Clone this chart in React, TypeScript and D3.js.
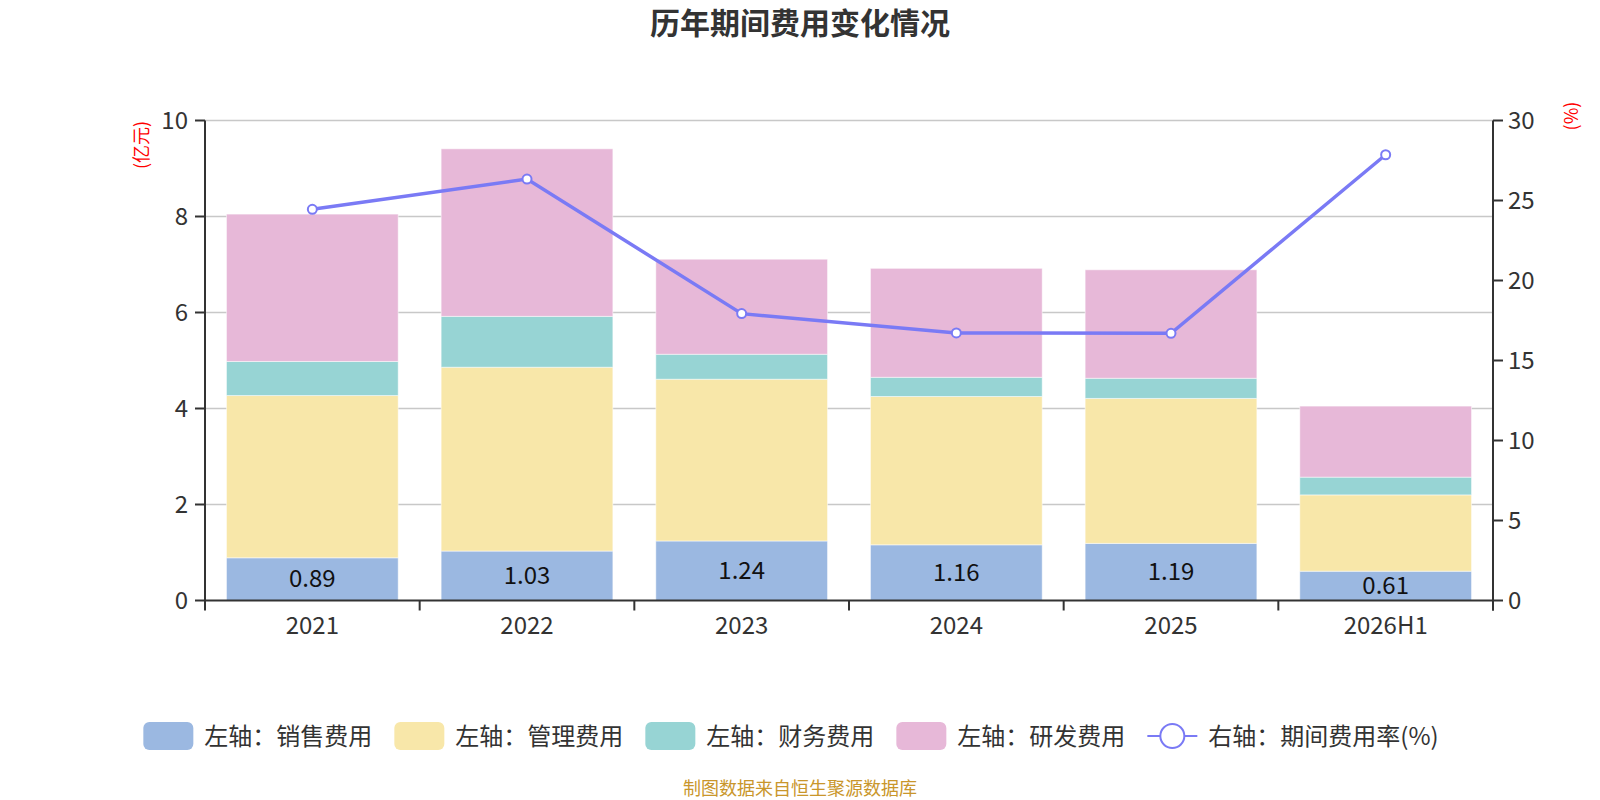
import * as d3 from 'd3'
import React, { useEffect, useRef } from 'react'

const categories = ['2021', '2022', '2023', '2024', '2025', '2026H1']
const salesCost = [0.89, 1.03, 1.24, 1.16, 1.19, 0.61]
const adminCost = [3.38, 3.83, 3.37, 3.09, 3.02, 1.59]
const financeCost = [0.71, 1.06, 0.52, 0.4, 0.42, 0.37]
const rdCost = [3.07, 3.49, 1.98, 2.27, 2.26, 1.48]
const expenseRate = [24.45, 26.34, 17.93, 16.72, 16.7, 27.86]

const seriesNames = ['左轴：销售费用', '左轴：管理费用', '左轴：财务费用', '左轴：研发费用']
const lineName = '右轴：期间费用率(%)'
const leftTicks = [0, 2, 4, 6, 8, 10]
const rightTicks = [0, 5, 10, 15, 20, 25, 30]

const colors = ['#9bb8e1', '#f8e7a9', '#97d4d4', '#e7b8d8']
const lineColor = '#7a7af5'
const FONT = '"Microsoft YaHei", "Noto Sans CJK SC", "Noto Sans", sans-serif'

const W = 1600
const H = 800
const margin = { top: 120.5, right: 107, bottom: 199.5, left: 205 }

const App: React.FC = () => {
  const svgRef = useRef<SVGSVGElement>(null)

  useEffect(() => {
    if (!svgRef.current) return
    const svg = d3.select(svgRef.current)
    svg.selectAll('*').remove()

    const x0 = margin.left
    const x1 = W - margin.right
    const yTop = margin.top
    const yBottom = H - margin.bottom

    const x = d3.scaleBand<string>().domain(categories).range([x0, x1]).paddingInner(0.2).paddingOuter(0.1)
    const yLeft = d3.scaleLinear().domain([0, 10]).range([yBottom, yTop])
    const yRight = d3.scaleLinear().domain([0, 30]).range([yBottom, yTop])

    // title
    svg.append('text')
      .attr('x', W / 2)
      .attr('y', 34)
      .attr('text-anchor', 'middle')
      .style('font-family', FONT)
      .style('font-size', '30px')
      .style('font-weight', 'bold')
      .style('fill', '#333')
      .text('历年期间费用变化情况')

    // grid lines
    svg.append('g')
      .selectAll('line')
      .data(leftTicks.slice(1))
      .join('line')
      .attr('x1', x0)
      .attr('x2', x1)
      .attr('y1', d => yLeft(d))
      .attr('y2', d => yLeft(d))
      .attr('stroke', '#c8c8c8')
      .attr('stroke-width', 1.5)

    // stacked bars
    const rows = categories.map((c, i) => ({
      cat: c,
      s0: salesCost[i],
      s1: adminCost[i],
      s2: financeCost[i],
      s3: rdCost[i],
    }))
    const stack = d3.stack<any>().keys(['s0', 's1', 's2', 's3'])
    const layers = stack(rows)

    layers.forEach((layer, li) => {
      svg.append('g')
        .selectAll('rect')
        .data(layer)
        .join('rect')
        .attr('x', d => x(d.data.cat) as number)
        .attr('width', x.bandwidth())
        .attr('y', d => yLeft(d[1]))
        .attr('height', d => yLeft(d[0]) - yLeft(d[1]))
        .attr('fill', colors[li])
        .attr('stroke', 'rgba(255,255,255,0.5)')
        .attr('stroke-width', 1)
    })

    // labels on sales segment
    svg.append('g')
      .selectAll('text')
      .data(layers[0])
      .join('text')
      .attr('x', d => (x(d.data.cat) as number) + x.bandwidth() / 2)
      .attr('y', d => (yLeft(d[0]) + yLeft(d[1])) / 2 + 8)
      .attr('text-anchor', 'middle')
      .style('font-family', FONT)
      .style('font-size', '24px')
      .style('fill', '#111')
      .text(d => d3.format('.2f')(d[1] - d[0]))

    // axes
    const axisColor = '#333'
    const ax = svg.append('g')
    ax.append('line').attr('x1', x0).attr('x2', x0).attr('y1', yTop).attr('y2', yBottom + 1)
      .attr('stroke', axisColor).attr('stroke-width', 2)
    ax.append('line').attr('x1', x1).attr('x2', x1).attr('y1', yTop).attr('y2', yBottom + 10)
      .attr('stroke', axisColor).attr('stroke-width', 2)
    ax.append('line').attr('x1', x0 - 1).attr('x2', x1 + 1).attr('y1', yBottom).attr('y2', yBottom)
      .attr('stroke', axisColor).attr('stroke-width', 2)

    // left ticks
    leftTicks.forEach(t => {
      ax.append('line').attr('x1', x0 - 10).attr('x2', x0).attr('y1', yLeft(t)).attr('y2', yLeft(t))
        .attr('stroke', axisColor).attr('stroke-width', 2)
      ax.append('text')
        .attr('x', x0 - 17)
        .attr('y', yLeft(t) + 8.5)
        .attr('text-anchor', 'end')
        .style('font-family', FONT)
        .style('font-size', '24px')
        .style('fill', '#333')
        .text(t)
    })

    // right ticks
    rightTicks.forEach(t => {
      ax.append('line').attr('x1', x1).attr('x2', x1 + 10).attr('y1', yRight(t)).attr('y2', yRight(t))
        .attr('stroke', axisColor).attr('stroke-width', 2)
      ax.append('text')
        .attr('x', x1 + 15)
        .attr('y', yRight(t) + 8.5)
        .attr('text-anchor', 'start')
        .style('font-family', FONT)
        .style('font-size', '24px')
        .style('fill', '#333')
        .text(t)
    })

    // x ticks at category boundaries
    const step = x.step()
    const bounds = d3.range(categories.length + 1).map(i => x0 + i * step)
    bounds.forEach(b => {
      ax.append('line').attr('x1', b).attr('x2', b).attr('y1', yBottom).attr('y2', yBottom + 10)
        .attr('stroke', axisColor).attr('stroke-width', 2)
    })
    categories.forEach(c => {
      ax.append('text')
        .attr('x', (x(c) as number) + x.bandwidth() / 2)
        .attr('y', yBottom + 33)
        .attr('text-anchor', 'middle')
        .style('font-family', FONT)
        .style('font-size', '24px')
        .style('fill', '#333')
        .text(c)
    })

    // unit labels
    svg.append('text')
      .attr('transform', 'translate(148,145) rotate(-90)')
      .attr('text-anchor', 'middle')
      .style('font-family', FONT)
      .style('font-size', '18px')
      .style('fill', 'red')
      .text('(亿元)')
    svg.append('text')
      .attr('transform', 'translate(1578,116) rotate(-90)')
      .attr('text-anchor', 'middle')
      .style('font-family', FONT)
      .style('font-size', '18px')
      .style('fill', 'red')
      .text('(%)')

    // line
    const pts = categories.map((c, i) => [(x(c) as number) + x.bandwidth() / 2, yRight(expenseRate[i])] as [number, number])
    svg.append('path')
      .attr('d', d3.line()(pts))
      .attr('fill', 'none')
      .attr('stroke', lineColor)
      .attr('stroke-width', 3.5)
    svg.append('g')
      .selectAll('circle')
      .data(pts)
      .join('circle')
      .attr('cx', d => d[0])
      .attr('cy', d => d[1])
      .attr('r', 4.5)
      .attr('fill', '#fff')
      .attr('stroke', lineColor)
      .attr('stroke-width', 2)

    // legend
    const legend = svg.append('g')
    let cx = 0
    const ly = 736
    seriesNames.forEach((name, i) => {
      legend.append('rect')
        .attr('x', cx)
        .attr('y', ly - 14)
        .attr('width', 50)
        .attr('height', 28)
        .attr('rx', 6)
        .attr('fill', colors[i])
      const t = legend.append('text')
        .attr('x', cx + 61)
        .attr('y', ly + 8.5)
        .style('font-family', FONT)
        .style('font-size', '24px')
        .style('fill', '#333')
        .text(name)
      const tw = (t.node() as SVGTextElement).getComputedTextLength()
      cx += 61 + tw + 22
    })
    legend.append('line')
      .attr('x1', cx).attr('x2', cx + 50).attr('y1', ly).attr('y2', ly)
      .attr('stroke', lineColor).attr('stroke-width', 2)
    legend.append('circle')
      .attr('cx', cx + 25).attr('cy', ly).attr('r', 12)
      .attr('fill', '#fff').attr('stroke', lineColor).attr('stroke-width', 2)
    const lt = legend.append('text')
      .attr('x', cx + 61)
      .attr('y', ly + 8.5)
      .style('font-family', FONT)
      .style('font-size', '24px')
      .style('fill', '#333')
      .text(lineName)
    const total = cx + 61 + (lt.node() as SVGTextElement).getComputedTextLength()
    legend.attr('transform', `translate(${791 - total / 2},0)`)

    // source
    svg.append('text')
      .attr('x', W / 2)
      .attr('y', 795)
      .attr('text-anchor', 'middle')
      .style('font-family', FONT)
      .style('font-size', '18px')
      .style('fill', '#c9962b')
      .text('制图数据来自恒生聚源数据库')
  }, [])

  return (
    <div style={{ position: 'absolute', left: 0, top: 0, width: W, height: H, background: '#fff' }}>
      <svg ref={svgRef} width={W} height={H} />
    </div>
  )
}

export default App
